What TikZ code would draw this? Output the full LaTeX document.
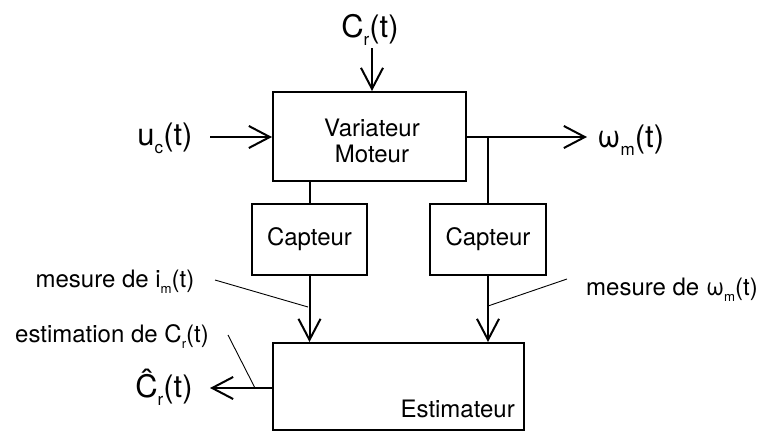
\documentclass[tikz,border=0pt]{standalone}
\usepackage{fontspec}
\setmainfont{TeX Gyre Heros}
\usetikzlibrary{arrows.meta}
\newcommand\sbs[1]{\raisebox{-0.55ex}{\scalebox{0.55}{#1}}}
\begin{document}
\begin{tikzpicture}[x=1pt,y=-1pt,
  blk/.style={draw,line width=2pt,inner sep=0pt},
  wire/.style={line width=2pt},
  arr/.style={line width=2pt,-{Straight Barb[length=21pt,width=22pt]}},
  lead/.style={line width=0.9pt},
  big/.style={font=\fontsize{31}{36}\selectfont,inner sep=0pt},
  mid/.style={font=\fontsize{24}{27}\selectfont,inner sep=0pt}]
\useasboundingbox (0,0) rectangle (771,432);
% blocks
\node[blk,minimum width=193pt,minimum height=89pt] (vm) at (369.5,136.5) {};
\node[mid,align=center] (vmt) at (372,141) {Variateur\\[-1pt]Moteur};
\node[blk,minimum width=115pt,minimum height=71pt] (cap1) at (309.5,239.5) {};
\node[mid] (cap1t) at (309.5,239.5) {Capteur};
\node[blk,minimum width=116pt,minimum height=71pt] (cap2) at (488,239.5) {};
\node[mid] (cap2t) at (488,239.5) {Capteur};
\node[blk,minimum width=251pt,minimum height=87pt] (est) at (398.5,386.5) {};
\node[mid,anchor=base east] (estt) at (515,417) {Estimateur};
% labels
\node[big,anchor=base] (cr) at (370,37) {C\sbs{r}(t)};
\node[big,anchor=base] (uc) at (165,145) {u\sbs{c}(t)};
\node[big,anchor=base west] (wm) at (597,147) {ω\sbs{m}(t)};
\node[big,anchor=base] (chat) at (164,397) {Ĉ\sbs{r}(t)};
\node[mid,anchor=base] (l1) at (115,287) {mesure de i\sbs{m}(t)};
\node[mid,anchor=base] (l2) at (112,342) {estimation de C\sbs{r}(t)};
\node[mid,anchor=base] (l3) at (672,295) {mesure de ω\sbs{m}(t)};
% coordinates
\coordinate (crs) at (372,48);
\coordinate (ucs) at (210,137);
\coordinate (wmo) at (466,137);
\coordinate (wme) at (587,137);
\coordinate (br) at (488,137);
\coordinate (chs) at (273,388);
\coordinate (che) at (210,388);
\coordinate (p1) at (308,307);
\coordinate (p2) at (255,388);
\coordinate (p3) at (488,306);
\coordinate (q1) at (215,280);
\coordinate (q2) at (228,335);
\coordinate (q3) at (567,279);
% connectors
\draw[arr] (crs) -- (crs |- vm.north);
\draw[arr] (ucs) -- (ucs -| vm.west);
\draw[arr] (wmo) -- (wme);
\draw[wire] (br) -- (br |- cap2.north);
\draw[wire] (cap1.north |- vm.south) -- (cap1.north);
\draw[arr] (cap1.south) -- (cap1.south |- est.north);
\draw[arr] (cap2.south) -- (cap2.south |- est.north);
\draw[arr] (chs) -- (che);
\draw[lead] (q1) -- (p1);
\draw[lead] (q2) -- (p2);
\draw[lead] (q3) -- (p3);
\end{tikzpicture}
\end{document}
